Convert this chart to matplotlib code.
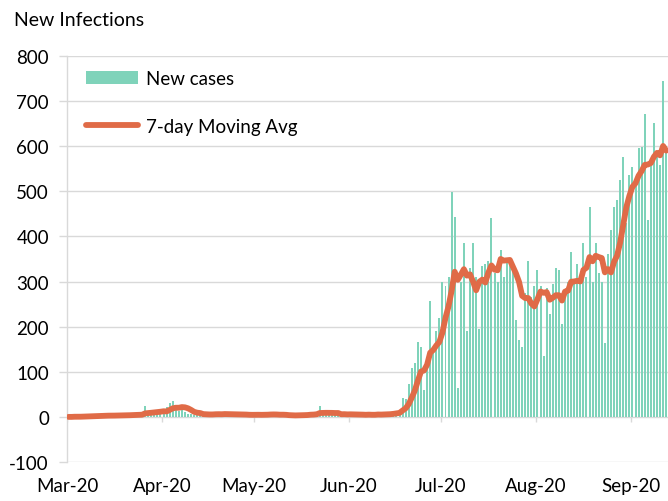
#-----------------------------------------------------------------------------------------------
# Daily new infections with a 7-day moving average (Excel style chart)
#-----------------------------------------------------------------------------------------------

import numpy as np
import pandas as pd
import matplotlib
matplotlib.use('Agg')
import matplotlib.pyplot as plt
import matplotlib.dates as mdates


# Daily new cases, starting on 1 March 2020
early_march = [0, 0, 1, 0, 1, 2, 1, 2, 3, 2, 3, 2, 4, 3, 2, 4, 3, 5, 3, 4, 5, 4, 6, 5]
spring_bump = [7, 24, 8, 10, 9, 12, 10, 14, 22, 31, 35, 18, 12, 20, 10, 7, 6, 5]
flat_period = [5, 6, 4, 7, 5, 6, 8, 6, 5, 7, 6, 5, 4, 6,
               5, 4, 6, 3, 4, 5, 6, 4, 5, 7, 6, 5, 4, 3,
               4, 3, 2, 4, 3, 5, 4, 6, 5, 7, 6, 8, 24, 6,
               7, 5, 6, 4, 8, 5, 7, 4, 6, 5, 3, 6, 4, 5,
               6, 4, 5, 7, 5, 6, 8, 7, 9, 12]
summer_wave = [15, 42, 40, 73, 108, 120, 165, 155, 60, 130,
               258, 150, 190, 220, 300, 290, 310, 499, 443, 65,
               300, 385, 190, 330, 385, 310, 195, 335, 340, 345,
               440, 320, 300, 370, 310, 345, 350, 335, 214, 170,
               155, 275, 345, 265, 290, 325, 290, 136, 285, 227,
               295, 330, 325, 207, 275, 300, 365, 300, 340, 315,
               385, 310, 465, 300, 385, 320, 300, 163, 360, 414,
               465, 481, 526, 577, 430, 537, 555, 520, 597, 599,
               672, 436, 560, 652, 581, 559, 744, 600]

new_cases = early_march + spring_bump + flat_period + summer_wave
start_date = '2020-03-01'

y_ticks = [-100, 0, 100, 200, 300, 400, 500, 600, 700, 800]
month_ticks = ['2020-03-01', '2020-04-01', '2020-05-01', '2020-06-01',
               '2020-07-01', '2020-08-01', '2020-09-01']

bar_color = '#7FD3BA'
line_color = '#E06B47'
grid_color = '#D9D9D9'

#-----------------------------------------------------------------------------------------------

df = pd.DataFrame({'cases': new_cases},
                  index=pd.date_range(start_date, periods=len(new_cases), freq='D'))
df['avg7'] = df['cases'].rolling(7, min_periods=1).mean()

# center every day in its own slot like Excel does on a date axis
x = mdates.date2num(df.index) + 0.5

plt.rcParams['font.family'] = ['Lato', 'DejaVu Sans']
plt.rcParams['axes.unicode_minus'] = False

fig = plt.figure(figsize=(6.68, 5.02), dpi=100)
ax = fig.add_axes([67 / 668, 1 - 463 / 502, 1 - 67 / 668, (463 - 57) / 502])

# horizontal gridlines
for yv in y_ticks:
    ax.axhline(yv, color=grid_color, lw=1.0, zorder=0)

bars = ax.bar(x, df['cases'], width=0.65, color=bar_color, label='New cases', zorder=2)
line, = ax.plot(x, df['avg7'], color=line_color, lw=4.2, solid_capstyle='round',
                label='7-day Moving Avg', zorder=3)

x_lo = mdates.date2num(pd.Timestamp(start_date))
ax.set_xlim(x_lo, x_lo + 196.1)
ax.set_ylim(-100, 800)

# month tick marks sit on the zero line, labels at the bottom
tick_pos = mdates.date2num(pd.to_datetime(month_ticks))
ax.vlines(tick_pos, -11, 0, color=grid_color, lw=1.0, zorder=1)
ax.set_xticks(tick_pos)
ax.set_xticklabels([pd.Timestamp(t).strftime('%b-%y') for t in month_ticks])
ax.tick_params(axis='x', length=0, pad=11, labelsize=13.5, colors='black')

ax.set_yticks(y_ticks)
ax.tick_params(axis='y', length=6, width=1.0, color=grid_color, pad=7, labelsize=13.5)

for side in ['top', 'right', 'bottom']:
    ax.spines[side].set_visible(False)
ax.spines['left'].set_color(grid_color)
ax.spines['left'].set_linewidth(1.0)

fig.text(14 / 668, 1 - 21 / 502, 'New Infections', fontsize=14, va='center', ha='left')

ax.legend([bars, line], ['New cases', '7-day Moving Avg'],
          loc='upper left', bbox_to_anchor=(0.019, 0.984), frameon=False,
          fontsize=13.5, handlelength=2.8, handletextpad=0.4, labelspacing=1.65,
          borderaxespad=0.0)

plt.savefig('out.png', dpi=100)
